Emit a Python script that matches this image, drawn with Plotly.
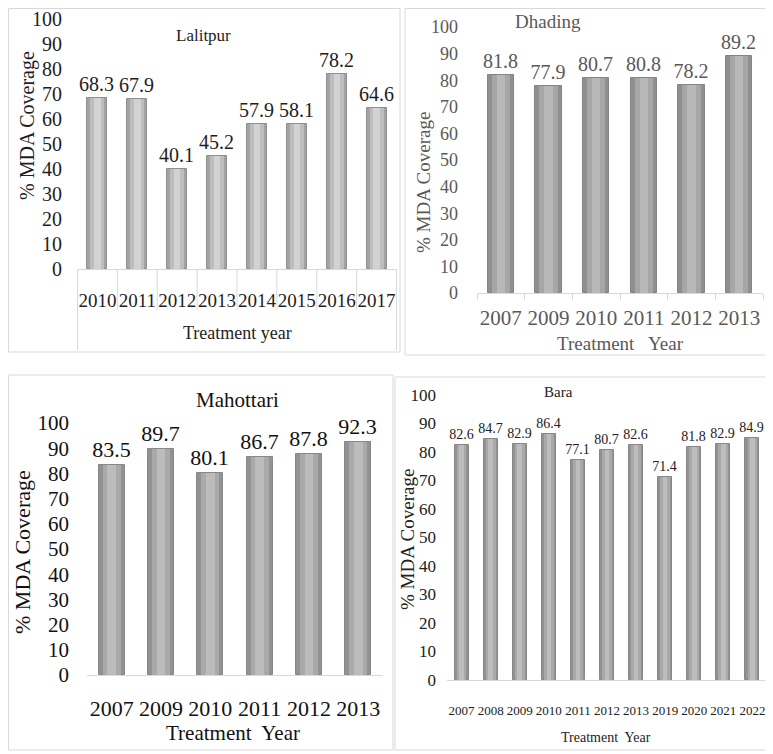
import plotly.graph_objects as go

# reference picture size; the page keeps its default 8px body margin,
# so the figure is drawn 8px smaller and coordinates are shifted
REF_W, REF_H = 773, 754
OFF = 8
W, H = REF_W - OFF, REF_H - OFF

# ---------------- data ----------------
lalitpur_years = ["2010", "2011", "2012", "2013", "2014", "2015", "2016", "2017"]
lalitpur_cov = [68.3, 67.9, 40.1, 45.2, 57.9, 58.1, 78.2, 64.6]

dhading_years = ["2007", "2009", "2010", "2011", "2012", "2013"]
dhading_cov = [81.8, 77.9, 80.7, 80.8, 78.2, 89.2]

mahottari_years = ["2007", "2009", "2010", "2011", "2012", "2013"]
mahottari_cov = [83.5, 89.7, 80.1, 86.7, 87.8, 92.3]

bara_years = ["2007", "2008", "2009", "2010", "2011", "2012", "2013", "2019", "2020", "2021", "2022"]
bara_cov = [82.6, 84.7, 82.9, 86.4, 77.1, 80.7, 82.6, 71.4, 81.8, 82.9, 84.9]

y_ticks = list(range(0, 101, 10))

SERIF = "Liberation Serif"


def px_x(p):
    return max(p - OFF, 0.5) / W


def px_y(p):
    return 1 - max(p - OFF, 0.5) / H


panels = [
    dict(name="Lalitpur", years=lalitpur_years, cov=lalitpur_cov,
         xdom=(77, 397), ydom=(19, 269), width=0.5,
         colors=("#a3a3a3", "#bdbdbd", "#d2d2d2"), edge="#8f8f8f",
         txt="#1e1e1e", tick=20, lab=20, yr=19, xt=18, tt=17, yt=20,
         ystand=14, xstand=14, ticklen=0,
         title_pos=(203, 35), xtitle=("Treatment year", 237, 333),
         ytitle_pos=(27, 126), frame=(3, 3, 400, 352)),
    dict(name="Dhading", years=dhading_years, cov=dhading_cov,
         xdom=(477, 763), ydom=(27, 293), width=0.55,
         colors=("#8f8f8f", "#a6a6a6", "#b8b8b8"), edge="#858585",
         txt="#595959", tick=18, lab=20, yr=21, xt=19, tt=19, yt=19,
         ystand=18, xstand=6, ticklen=6,
         title_pos=(548, 21), xtitle=("Treatment&nbsp;&nbsp; Year", 620, 343),
         ytitle_pos=(424, 182), frame=(405, 3, 770, 355)),
    dict(name="Mahottari", years=mahottari_years, cov=mahottari_cov,
         xdom=(87, 383), ydom=(423, 675), width=0.53,
         colors=("#929292", "#a9a9a9", "#bcbcbc"), edge="#878787",
         txt="#111111", tick=21, lab=22, yr=22, xt=21, tt=21, yt=22,
         ystand=17, xstand=14, ticklen=0,
         title_pos=(237, 400), xtitle=("Treatment&nbsp; Year", 233, 733),
         ytitle_pos=(22, 552), frame=(3, 375, 393, 750)),
    dict(name="Bara", years=bara_years, cov=bara_cov,
         xdom=(447, 767), ydom=(395, 680), width=0.48,
         colors=("#929292", "#a9a9a9", "#bdbdbd"), edge="#878787",
         txt="#222222", tick=17, lab=14, yr=13, xt=14, tt=15, yt=19,
         ystand=10, xstand=18, ticklen=0,
         title_pos=(558, 392), xtitle=("Treatment&nbsp; Year", 606, 737),
         ytitle_pos=(407, 540), frame=(395, 377, 772, 750)),
]

fig = go.Figure()
shapes = []
annotations = []

for i, p in enumerate(panels, start=1):
    xa = "x" if i == 1 else f"x{i}"
    ya = "y" if i == 1 else f"y{i}"
    w = p["width"]
    # cylinder-like shading: three overlaid bars of decreasing width
    for k, (frac, col) in enumerate(zip((1.0, 0.7, 0.32), p["colors"])):
        fig.add_trace(go.Bar(
            x=p["years"], y=p["cov"], width=w * frac,
            marker=dict(color=col,
                        line=dict(color=p["edge"] if k == 0 else col, width=1 if k == 0 else 0)),
            text=[f"{v:.1f}" for v in p["cov"]] if k == 0 else None,
            textposition="outside" if k == 0 else "none",
            constraintext="none",
            textfont=dict(family=SERIF, size=p["lab"], color=p["txt"]),
            cliponaxis=False, hoverinfo="skip", showlegend=False,
            xaxis=xa, yaxis=ya,
        ))

    xkey = "xaxis" if i == 1 else f"xaxis{i}"
    ykey = "yaxis" if i == 1 else f"yaxis{i}"
    fig.update_layout(**{
        xkey: dict(
            domain=[px_x(p["xdom"][0]), px_x(p["xdom"][1])],
            anchor=ya, type="category", automargin=False,
            showline=True, linecolor="#d9d9d9", linewidth=1,
            showgrid=False, zeroline=False,
            ticks="outside" if p["ticklen"] else "",
            ticklen=p["ticklen"], tickcolor="#d9d9d9", tickson="boundaries",
            ticklabelstandoff=p["xstand"], tickangle=0,
            ticklabeloverflow="allow",
            tickfont=dict(family=SERIF, size=p["yr"], color=p["txt"]),
            fixedrange=True,
        ),
        ykey: dict(
            domain=[px_y(p["ydom"][1]), px_y(p["ydom"][0])],
            anchor=xa, range=[0, 100], tickvals=y_ticks, automargin=False,
            showline=False, showgrid=False, zeroline=False, ticks="",
            ticklabelstandoff=p["ystand"], ticklabeloverflow="allow",
            tickfont=dict(family=SERIF, size=p["tick"], color=p["txt"]),
            fixedrange=True,
        ),
    })

    # panel frame
    fx0, fy0, fx1, fy1 = p["frame"]
    shapes.append(dict(type="rect", xref="paper", yref="paper",
                       x0=px_x(fx0), x1=px_x(fx1), y0=px_y(fy1), y1=px_y(fy0),
                       line=dict(color="#d9d9d9", width=1), fillcolor="rgba(0,0,0,0)",
                       layer="below"))

    # titles
    annotations.append(dict(text=p["name"], xref="paper", yref="paper",
                            x=px_x(p["title_pos"][0]), y=px_y(p["title_pos"][1]),
                            showarrow=False, xanchor="center", yanchor="middle",
                            font=dict(family=SERIF, size=p["tt"], color=p["txt"])))
    xt_text, xt_x, xt_y = p["xtitle"]
    annotations.append(dict(text=xt_text, xref="paper", yref="paper",
                            x=px_x(xt_x), y=px_y(xt_y),
                            showarrow=False, xanchor="center", yanchor="middle",
                            font=dict(family=SERIF, size=p["xt"], color=p["txt"])))
    annotations.append(dict(text="% MDA Coverage", xref="paper", yref="paper",
                            x=px_x(p["ytitle_pos"][0]), y=px_y(p["ytitle_pos"][1]),
                            showarrow=False, xanchor="center", yanchor="middle",
                            textangle=-90,
                            font=dict(family=SERIF, size=p["yt"], color=p["txt"])))

# Lalitpur category-table dividers below the axis
lp = panels[0]
n = len(lp["years"])
for j in range(n + 1):
    outer = j in (0, n)
    shapes.append(dict(type="line", xref="x", yref="paper",
                       x0=j - 0.5, x1=j - 0.5,
                       y0=px_y(lp["ydom"][1]), y1=px_y(350 if outer else 310),
                       line=dict(color="#d9d9d9", width=1)))

fig.update_layout(
    width=W, height=H, margin=dict(l=0, r=0, t=0, b=0, autoexpand=False),
    paper_bgcolor="white", plot_bgcolor="rgba(0,0,0,0)",
    barmode="overlay", bargap=0,
    shapes=shapes, annotations=annotations,
    font=dict(family=SERIF),
)

fig.write_html("out.html")
